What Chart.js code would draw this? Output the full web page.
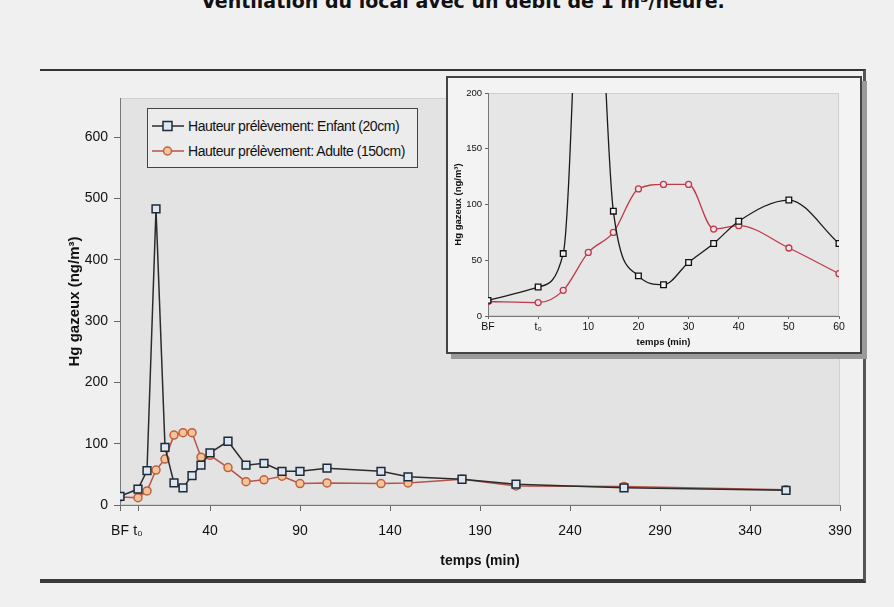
<!DOCTYPE html>
<html>
<head>
<meta charset="utf-8">
<script src="https://cdn.jsdelivr.net/npm/chart.js@4/dist/chart.umd.min.js"></script>
<style>
  html, body { margin: 0; padding: 0; }
  body { width: 894px; height: 607px; background: #f0f0f0; position: relative; overflow: hidden;
         font-family: "Liberation Sans", Arial, sans-serif; }
  #title { position: absolute; left: 0; width: 926px; top: -8px; text-align: center;
           font: bold 19px "DejaVu Sans", sans-serif; color: #111; line-height: 19px; }
  #frame { position: absolute; left: 40px; top: 69px; width: 823px; height: 508px;
           border-top: 2px solid #333; border-right: 3px solid #555; border-bottom: 4px solid #3a3a3a; }
  #mainCanvas { position: absolute; left: 0; top: 0; }
  #legend { position: absolute; left: 147px; top: 108px; width: 269px; height: 58px;
            border: 1px solid #444; background: #ececec; }
  .row { position: absolute; left: 3px; height: 16px; display: flex; align-items: center;
         font: 14px "Liberation Sans", Arial, sans-serif; letter-spacing: -0.45px; color: #111; white-space: nowrap; }
  .row svg { margin-right: 3px; }
  #inset { position: absolute; left: 446px; top: 76px; width: 412px; height: 274px;
           border: 2px solid #444; background: #f3f3f3; box-shadow: 5px 5px 0 #9a9a9a; }
  #insetCanvas { position: absolute; left: 0; top: 0; }
</style>
</head>
<body>
<div id="title">Ventilation du local avec un débit de 1 m³/heure.</div>
<div id="frame"></div>
<canvas id="mainCanvas" width="894" height="607"></canvas>
<div id="legend">
  <div class="row" style="top:9px">
    <svg width="34" height="14"><line x1="1" y1="7" x2="33" y2="7" stroke="#2b2b2b" stroke-width="1.5"/><rect x="12" y="2.5" width="9" height="9" fill="#dce6ef" stroke="#1e2a3a" stroke-width="1.5"/></svg>
    <span>Hauteur prélèvement: Enfant (20cm)</span>
  </div>
  <div class="row" style="top:34px">
    <svg width="34" height="14"><line x1="1" y1="7" x2="33" y2="7" stroke="#b5544a" stroke-width="1.5"/><circle cx="16.5" cy="7" r="4" fill="#f3c39a" stroke="#c0603a" stroke-width="1.5"/></svg>
    <span>Hauteur prélèvement: Adulte (150cm)</span>
  </div>
</div>
<div id="inset"><canvas id="insetCanvas" width="412" height="274"></canvas></div>

<script>
// temps (min) ; BF = -10, t0 = 0
const times = [-10, 0, 5, 10, 15, 20, 25, 30, 35, 40, 50, 60, 70, 80, 90, 105, 135, 150, 180, 210, 270, 360];
// Hg gazeux (ng/m3)
const enfant = [14, 26, 56, 483, 94, 36, 28, 48, 65, 85, 104, 65, 68, 55, 55, 60, 55, 46, 42, 34, 28, 24];
const adulte = [13, 12, 23, 57, 75, 114, 118, 118, 78, 81, 61, 38, 41, 47, 35, 36, 35, 36, 42, 31, 30, 25];

const mainXTicks = [-10, 0, 40, 90, 140, 190, 240, 290, 340, 390];
const mainYTicks = [0, 100, 200, 300, 400, 500, 600];
const insetXTicks = [-10, 0, 10, 20, 30, 40, 50, 60];
const insetYTicks = [0, 50, 100, 150, 200];
const tickNames = { '-10': 'BF', '0': 't₀' };

const labelEnfant = 'Hauteur prélèvement: Enfant (20cm)';
const labelAdulte = 'Hauteur prélèvement: Adulte (150cm)';

function points(xs, ys, maxX) {
    const out = [];
    xs.forEach((x, i) => { if (x <= maxX) out.push({ x: x, y: ys[i] }); });
    return out;
}

function fixTicks(list) {
    return function (axis) { axis.ticks = list.map(v => ({ value: v })); };
}

function xLabel(v) {
    return tickNames[String(v)] !== undefined ? tickNames[String(v)] : String(v);
}

// grey plot background
const plotBg = {
    id: 'plotBg',
    beforeDraw(chart, args, opts) {
        const a = chart.chartArea, ctx = chart.ctx;
        ctx.save();
        ctx.fillStyle = opts.color;
        ctx.fillRect(a.left, a.top, a.right - a.left, a.bottom - a.top);
        ctx.strokeStyle = opts.line;
        ctx.lineWidth = 1;
        ctx.strokeRect(a.left + 0.5, a.top + 0.5, a.right - a.left - 1, a.bottom - a.top - 1);
        ctx.restore();
    }
};

const tickFont = { family: '"Liberation Sans", Arial, sans-serif', size: 14 };
const titleFont = { family: '"Liberation Sans", Arial, sans-serif', size: 15, weight: 'bold' };

new Chart(document.getElementById('mainCanvas'), {
    type: 'line',
    data: {
        datasets: [{
            label: labelEnfant,
            data: points(times, enfant, 400),
            borderColor: '#2b2b2b',
            borderWidth: 1.5,
            pointStyle: 'rect',
            pointRadius: 5.5,
            pointBackgroundColor: '#dce6ef',
            pointBorderColor: '#1e2a3a',
            pointBorderWidth: 1.5,
            tension: 0
        }, {
            label: labelAdulte,
            data: points(times, adulte, 400),
            borderColor: '#b5544a',
            borderWidth: 1.5,
            pointStyle: 'circle',
            pointRadius: 4,
            pointBackgroundColor: '#f3c39a',
            pointBorderColor: '#c0603a',
            pointBorderWidth: 1.5,
            tension: 0
        }]
    },
    options: {
        responsive: false,
        animation: false,
        layout: { padding: { left: 0, top: 98, right: 54, bottom: 0 } },
        plugins: {
            legend: { display: false },
            tooltip: { enabled: false },
            plotBg: { color: '#e3e3e3', line: '#d0d0d0' }
        },
        scales: {
            x: {
                type: 'linear',
                min: -10,
                max: 390,
                afterBuildTicks: fixTicks(mainXTicks),
                afterFit(axis) { axis.height = 102; },
                ticks: { font: tickFont, color: '#111', padding: 12, maxRotation: 0, autoSkip: false, callback: xLabel },
                grid: { drawOnChartArea: false, drawTicks: true, tickLength: 6, color: '#666' },
                border: { color: '#777', width: 1 },
                title: { display: true, text: 'temps (min)', font: { family: titleFont.family, size: 14, weight: 'bold' }, color: '#111', padding: { top: 0, bottom: 37 } }
            },
            y: {
                min: 0,
                max: 664,
                afterBuildTicks: fixTicks(mainYTicks),
                afterFit(axis) { axis.width = 120; },
                ticks: { font: tickFont, color: '#111', padding: 6 },
                grid: { drawOnChartArea: false, drawTicks: true, tickLength: 6, color: '#666' },
                border: { color: '#777', width: 1 },
                title: { display: true, text: 'Hg gazeux (ng/m³)', font: titleFont, color: '#111', padding: { top: 66, bottom: 0 } }
            }
        }
    },
    plugins: [plotBg]
});

const smallTick = { family: '"Liberation Sans", Arial, sans-serif', size: 9.5 };
const smallTitle = { family: '"Liberation Sans", Arial, sans-serif', size: 9.5, weight: 'bold' };

new Chart(document.getElementById('insetCanvas'), {
    type: 'line',
    data: {
        datasets: [{
            label: labelEnfant,
            data: points(times, enfant, 60),
            borderColor: '#1a1a1a',
            borderWidth: 1.3,
            pointStyle: 'rect',
            pointRadius: 4,
            pointBackgroundColor: '#f4f4f4',
            pointBorderColor: '#111',
            pointBorderWidth: 1.3,
            cubicInterpolationMode: 'monotone'
        }, {
            label: labelAdulte,
            data: points(times, adulte, 60),
            borderColor: '#c0394a',
            borderWidth: 1.3,
            pointStyle: 'circle',
            pointRadius: 3,
            pointBackgroundColor: '#f1e4e4',
            pointBorderColor: '#c0394a',
            pointBorderWidth: 1.3,
            cubicInterpolationMode: 'monotone'
        }]
    },
    options: {
        responsive: false,
        animation: false,
        layout: { padding: { left: 0, top: 15, right: 21, bottom: 0 } },
        plugins: {
            legend: { display: false },
            tooltip: { enabled: false },
            plotBg: { color: '#e6e6e6', line: '#cfcfcf' }
        },
        scales: {
            x: {
                type: 'linear',
                min: -10,
                max: 60,
                afterBuildTicks: fixTicks(insetXTicks),
                afterFit(axis) { axis.height = 36; },
                ticks: { font: { family: smallTick.family, size: 10.5 }, color: '#111', padding: 2, maxRotation: 0, autoSkip: false, callback: xLabel },
                grid: { drawOnChartArea: false, drawTicks: true, tickLength: 3, color: '#666' },
                border: { color: '#777', width: 1 },
                title: { display: true, text: 'temps (min)', font: smallTitle, color: '#111', padding: { top: 0, bottom: 4 } }
            },
            y: {
                min: 0,
                max: 200,
                afterBuildTicks: fixTicks(insetYTicks),
                afterFit(axis) { axis.width = 40; },
                ticks: { font: smallTick, color: '#111', padding: 3 },
                grid: { drawOnChartArea: false, drawTicks: true, tickLength: 3, color: '#666' },
                border: { color: '#777', width: 1 },
                title: { display: true, text: 'Hg gazeux (ng/m³)', font: smallTitle, color: '#111', padding: { top: 5, bottom: 0 } }
            }
        }
    },
    plugins: [plotBg]
});
</script>
</body>
</html>
